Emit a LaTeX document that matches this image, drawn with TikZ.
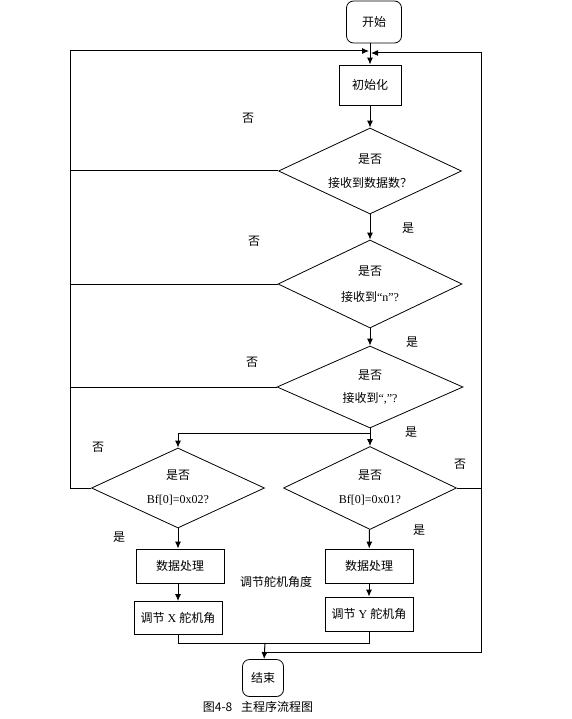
\documentclass[tikz,border=0pt]{standalone}
\usepackage{fontspec}
\setmainfont{Liberation Serif}
\newfontfamily\cjk{Noto Sans CJK SC}
\usetikzlibrary{arrows.meta,positioning,shapes.geometric,calc}
\newcommand{\cnfont}{\fontsize{12pt}{14pt}\selectfont}

\tikzset{
  box/.style={draw,line width=0.8pt,minimum width=88pt,minimum height=34pt,inner sep=2pt},
  term/.style={box,rounded corners=7pt},
  decision/.style={draw,diamond,aspect=2.1,line width=0.8pt,inner sep=0pt,align=center},
  flow/.style={line width=1pt,-{Latex[length=7pt,width=6pt]}},
  wire/.style={line width=1pt},
  tag/.style={font=\cnfont\cjk}
}

\begin{document}
\begin{tikzpicture}[x=1pt,y=-1pt,font=\cnfont]
  \useasboundingbox (0,0) rectangle (571,719);

  % main column
  \node[term,font=\cnfont\cjk,minimum width=55pt,minimum height=42pt] (start) at (374,22) {开始};
  \node[box,font=\cnfont\cjk,minimum width=62pt,minimum height=40pt] (init) at (370,85) {初始化};
  \node[decision,minimum width=183pt,minimum height=86pt] (d1) at (370,171)
       {{\cjk 是否}\\[10pt]{\cjk 接收到数据数？}};
  \node[decision,minimum width=184pt,minimum height=88pt] (d2) at (370,284)
       {{\cjk 是否}\\[12pt]{\cjk 接收到}“n”?};
  \node[decision,minimum width=186pt,minimum height=82pt] (d3) at (370,387)
       {{\cjk 是否}\\[9pt]{\cjk 接收到}“,”?};

  % two branches
  \node[decision,minimum width=173pt,minimum height=80pt] (d4) at (178,488)
       {{\cjk 是否}\\[10pt]Bf[0]=0x02?};
  \node[decision,minimum width=173pt,minimum height=83pt] (d5) at (370,488)
       {{\cjk 是否}\\[10pt]Bf[0]=0x01?};
  \node[box,font=\cnfont\cjk] (procx) at (180,566) {数据处理};
  \node[box,minimum height=33pt] (ctrlx) at (178,618) {{\cjk 调节} X {\cjk 舵机角}};
  \node[box,font=\cnfont\cjk] (procy) at (369,566) {数据处理};
  \node[box] (ctrly) at (369,614) {{\cjk 调节} Y {\cjk 舵机角}};
  \node[tag] (servo) at (276,582) {调节舵机角度};
  \node[term,font=\cnfont\cjk,minimum width=41pt,minimum height=37pt] (stop) at (263,678) {结束};
  \node[font=\cjk\fontsize{12pt}{14pt}\selectfont] (caption) at (258,707) {图4-8\enspace\ 主程序流程图};

  % join points
  \coordinate (jl) at (369,51);
  \coordinate (jr) at (371,53);
  \coordinate (lbot) at (70,488);
  \coordinate (rgt) at (481,488);
  \coordinate (split) at (370,433);
  \coordinate (mj) at (265,643);
  \coordinate (ej) at (265,652);

  \draw[flow] (init.north |- start.south) -- (init);
  \draw[flow] (init) -- (d1);
  \draw[flow] (d1) -- (d2);
  \draw[flow] (d2) -- (d3);
  \draw[wire] (d3.south) -- (split);
  \draw[flow] (split) -- (d5);
  \draw[flow] (split) -| (d4);

  % no loops back to the top
  \draw[flow] (d4.west) -- (lbot) |- (jl);
  \draw[wire] (d1.west) -- (d1.west -| lbot);
  \draw[wire] (d2.west) -- (d2.west -| lbot);
  \draw[wire] (d3.west) -- (d3.west -| lbot);
  \draw[flow] (d5.east) -- (rgt) |- (jr);
  \draw[wire] (rgt) |- (ej);

  \draw[flow] (d4) -- (d4 |- procx.north);
  \draw[flow] (procx.south -| ctrlx) -- (ctrlx);
  \draw[flow] (d5) -- (procy);
  \draw[flow] (procy) -- (ctrly);
  \draw[wire] (ctrlx.south) -- (ctrlx.south |- mj) -- (ctrly.south |- mj) -- (ctrly.south);
  \draw[flow] (mj) -- (stop);

  % labels
  \node[tag] (no1) at (248,118) {否};
  \node[tag] (no2) at (254,241) {否};
  \node[tag] (no3) at (252,362) {否};
  \node[tag] (no4) at (98,447) {否};
  \node[tag] (no5) at (460,464) {否};
  \node[tag] (yes1) at (408,228) {是};
  \node[tag] (yes2) at (412,342) {是};
  \node[tag] (yes3) at (411,432) {是};
  \node[tag] (yes4) at (119,537) {是};
  \node[tag] (yes5) at (419,530) {是};
\end{tikzpicture}
\end{document}
